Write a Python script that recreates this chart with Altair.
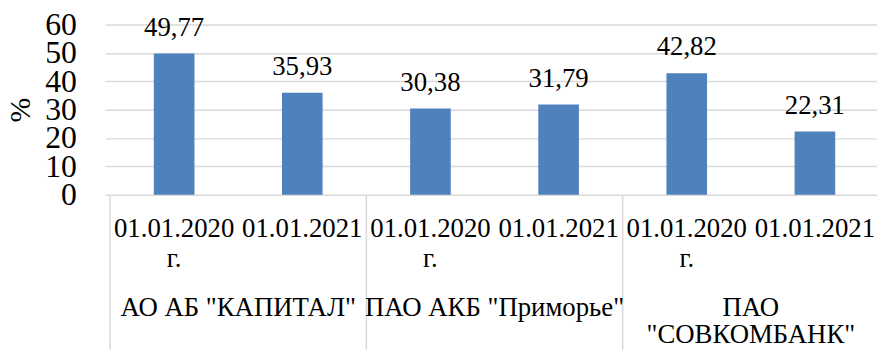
import altair as alt
import pandas as pd

banks = ['АО АБ "КАПИТАЛ"', 'ПАО АКБ "Приморье"', 'ПАО\n"СОВКОМБАНК"']
dates = ['01.01.2020\nг.', '01.01.2021']
values = [49.77, 35.93, 30.38, 31.79, 42.82, 22.31]
y_ticks = [0, 10, 20, 30, 40, 50, 60]

rows = []
for bi, b in enumerate(banks):
    for di, d in enumerate(dates):
        i = bi * len(dates) + di
        rows.append({"pos": i + 0.5, "date": d, "bank": b, "value": values[i],
                     "label": f"{values[i]:.2f}".replace(".", ",")})
df = pd.DataFrame(rows)
groups = pd.DataFrame({"bank": banks, "mid": [len(dates) * i + len(dates) / 2 for i in range(len(banks))]})
seps = pd.DataFrame({"sx": [len(dates) * i for i in range(len(banks) + 1)]})

FONT = "Liberation Serif"
n = len(values)
xscale = alt.Scale(domain=[0, n], range=[0, 786])
yscale = alt.Scale(domain=[0, 60])
yaxis = alt.Axis(values=y_ticks, title="%", grid=True, gridColor="#D9D9D9",
                 gridWidth=1.5, domain=False, ticks=False, tickSize=0,
                 labelOverlap=False, labelBound=False,
                 labelFont=FONT, labelFontSize=32, labelColor="black",
                 labelPadding=29, titleFont=FONT, titleFontSize=30,
                 titleFontWeight="normal", titleColor="black",
                 titleAngle=-90, titleX=-85, titleY=86,
                 titleAlign="center", titleBaseline="middle")

bars = alt.Chart(df).mark_bar(size=41, color="#4F81BD").encode(
    x=alt.X("pos:Q", scale=xscale, axis=None),
    y=alt.Y("value:Q", scale=yscale, axis=yaxis),
)

vlabels = alt.Chart(df).mark_text(font=FONT, fontSize=27, color="black",
                                  baseline="alphabetic", dy=-18).encode(
    x=alt.X("pos:Q", scale=xscale, axis=None),
    y=alt.Y("value:Q", scale=yscale, axis=yaxis),
    text="label:N",
)

dlabels = alt.Chart(df).mark_text(font=FONT, fontSize=27, color="black",
                                  baseline="alphabetic", lineBreak="\n",
                                  lineHeight=30, align="center").encode(
    x=alt.X("pos:Q", scale=xscale, axis=None),
    y=alt.value(215),
    text="date:N",
)

glabels = alt.Chart(groups).mark_text(font=FONT, fontSize=27, color="black",
                                      baseline="alphabetic", lineBreak="\n",
                                      lineHeight=28, align="center").encode(
    x=alt.X("mid:Q", scale=xscale, axis=None),
    y=alt.value(294),
    text="bank:N",
)

rules = alt.Chart(seps).mark_rule(color="#D9D9D9", strokeWidth=1.5).encode(
    x=alt.X("sx:Q", scale=xscale, axis=None),
    y=alt.value(172),
    y2=alt.value(330),
)

chart = alt.layer(rules, bars, vlabels, dlabels, glabels).properties(
    width=779, height=172,
    autosize=alt.AutoSizeParams(type="none"),
    padding={"left": 98, "top": 15, "right": 0, "bottom": 155},
).configure_view(stroke=None)

chart.save("out.html", embed_options={"renderer": "svg", "actions": False})
